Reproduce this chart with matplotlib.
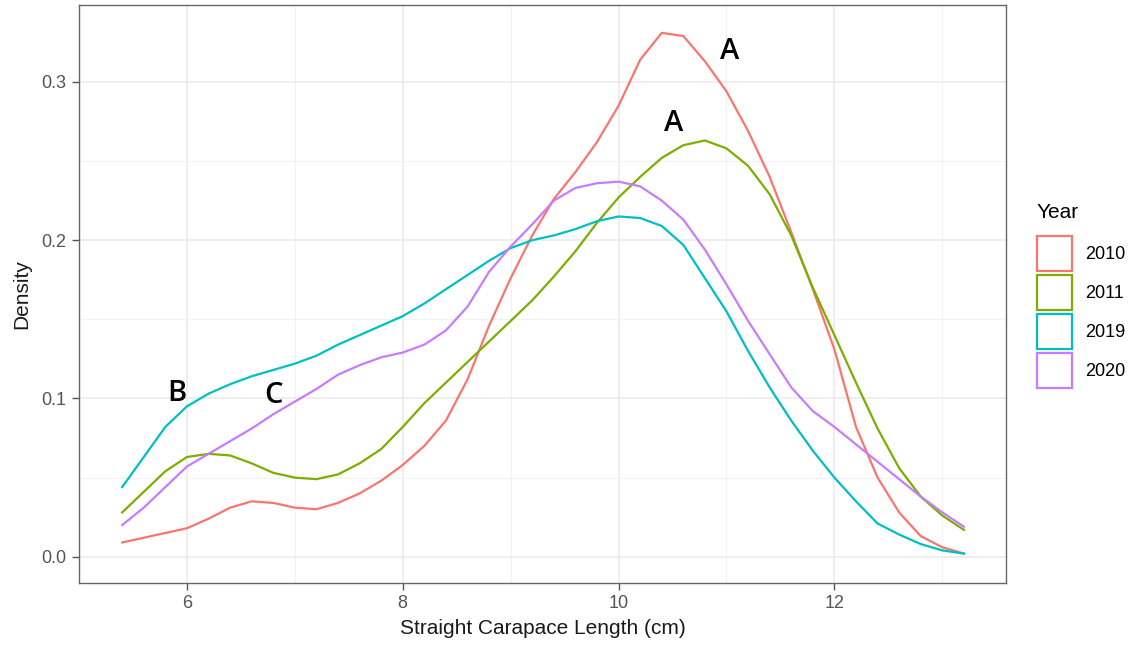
import numpy as np
import matplotlib
matplotlib.use("Agg")
import matplotlib.pyplot as plt
from matplotlib.patches import Patch

# density curves, common x grid (cm)
scl = [5.4, 5.6, 5.8, 6.0, 6.2, 6.4, 6.6, 6.8, 7.0, 7.2,
       7.4, 7.6, 7.8, 8.0, 8.2, 8.4, 8.6, 8.8, 9.0, 9.2,
       9.4, 9.6, 9.8, 10.0, 10.2, 10.4, 10.6, 10.8, 11.0, 11.2,
       11.4, 11.6, 11.8, 12.0, 12.2, 12.4, 12.6, 12.8, 13.0, 13.2]

dens_2010 = [0.009, 0.012, 0.015, 0.018, 0.024, 0.031, 0.035, 0.034, 0.031, 0.030,
             0.034, 0.040, 0.048, 0.058, 0.070, 0.086, 0.112, 0.146, 0.176, 0.203,
             0.226, 0.243, 0.262, 0.285, 0.314, 0.331, 0.329, 0.313, 0.294, 0.269,
             0.240, 0.205, 0.169, 0.131, 0.082, 0.050, 0.028, 0.013, 0.006, 0.002]

dens_2011 = [0.028, 0.041, 0.054, 0.063, 0.065, 0.064, 0.059, 0.053, 0.050, 0.049,
             0.052, 0.059, 0.068, 0.082, 0.097, 0.110, 0.123, 0.136, 0.149, 0.162,
             0.177, 0.193, 0.211, 0.227, 0.240, 0.252, 0.260, 0.263, 0.258, 0.247,
             0.229, 0.203, 0.170, 0.140, 0.110, 0.081, 0.056, 0.038, 0.026, 0.017]

dens_2019 = [0.044, 0.063, 0.082, 0.095, 0.103, 0.109, 0.114, 0.118, 0.122, 0.127,
             0.134, 0.140, 0.146, 0.152, 0.160, 0.169, 0.178, 0.187, 0.195, 0.200,
             0.203, 0.207, 0.212, 0.215, 0.214, 0.209, 0.197, 0.176, 0.155, 0.130,
             0.107, 0.086, 0.067, 0.050, 0.035, 0.021, 0.014, 0.008, 0.004, 0.002]

dens_2020 = [0.020, 0.031, 0.044, 0.057, 0.065, 0.073, 0.081, 0.090, 0.098, 0.106,
             0.115, 0.121, 0.126, 0.129, 0.134, 0.143, 0.158, 0.180, 0.196, 0.210,
             0.225, 0.233, 0.236, 0.237, 0.234, 0.225, 0.213, 0.194, 0.172, 0.149,
             0.128, 0.107, 0.092, 0.082, 0.071, 0.060, 0.049, 0.038, 0.028, 0.019]

years = ["2010", "2011", "2019", "2020"]
colors = ["#F8766D", "#7CAE00", "#00BFC4", "#C77CFF"]

# letter annotations (x, y, text)
ann_x = [11.03, 10.51, 5.91, 6.80]
ann_y = [0.319, 0.2735, 0.103, 0.102]
ann_txt = ["A", "A", "B", "C"]

plt.rcParams['font.family'] = ['Liberation Sans', 'DejaVu Sans']

fig = plt.figure(figsize=(11.39, 6.45), dpi=100)
ax = fig.add_axes([79 / 1139, 1 - 583 / 645, (1006 - 79) / 1139, (583 - 5) / 645])

for dens, c in zip([dens_2010, dens_2011, dens_2019, dens_2020], colors):
    ax.plot(scl, dens, color=c, lw=1.6, solid_joinstyle='round')

for x, y, t in zip(ann_x, ann_y, ann_txt):
    ax.text(x, y, t, fontsize=21, family=['Open Sans', 'DejaVu Sans'],
            fontweight='semibold', ha='center', va='center', color='black')

# ggplot theme_bw look
xr = scl[-1] - scl[0]
ax.set_xlim(scl[0] - 0.05 * xr, scl[-1] + 0.05 * xr)
ymax = 0.332
ax.set_ylim(-0.05 * ymax, ymax * 1.05)
ax.set_xticks([6, 8, 10, 12])
ax.set_xticks([5, 7, 9, 11, 13], minor=True)
ax.set_yticks([0.0, 0.1, 0.2, 0.3])
ax.set_yticks([0.05, 0.15, 0.25], minor=True)
ax.set_yticklabels(["0.0", "0.1", "0.2", "0.3"])
ax.grid(True, which='major', color='#EBEBEB', lw=1.2)
ax.grid(True, which='minor', color='#F2F2F2', lw=0.8)
ax.set_axisbelow(True)
for s in ax.spines.values():
    s.set_color('#666666')
    s.set_linewidth(1.0)
ax.tick_params(which='major', length=5, width=1, color='#555555',
               labelsize=13, labelcolor='#555555', pad=4)
ax.tick_params(which='minor', length=0)

ax.set_xlabel("Straight Carapace Length (cm)", fontsize=15, color='#1A1A1A', labelpad=5)
ax.set_ylabel("Density", fontsize=15, color='#1A1A1A', labelpad=7)

handles = [Patch(facecolor='white', edgecolor=c, lw=1.6) for c in colors]
leg = fig.legend(handles, years, title="Year", loc='upper left',
                 bbox_to_anchor=(1037 / 1139, 1 - 203 / 645), frameon=False,
                 fontsize=13, title_fontsize=15, handlelength=1.95, handleheight=2.6,
                 labelspacing=0.22, handletextpad=0.7, borderaxespad=0, borderpad=0)
leg._legend_box.align = "left"
leg._legend_box.sep = 10

fig.savefig("out.png", dpi=100)
